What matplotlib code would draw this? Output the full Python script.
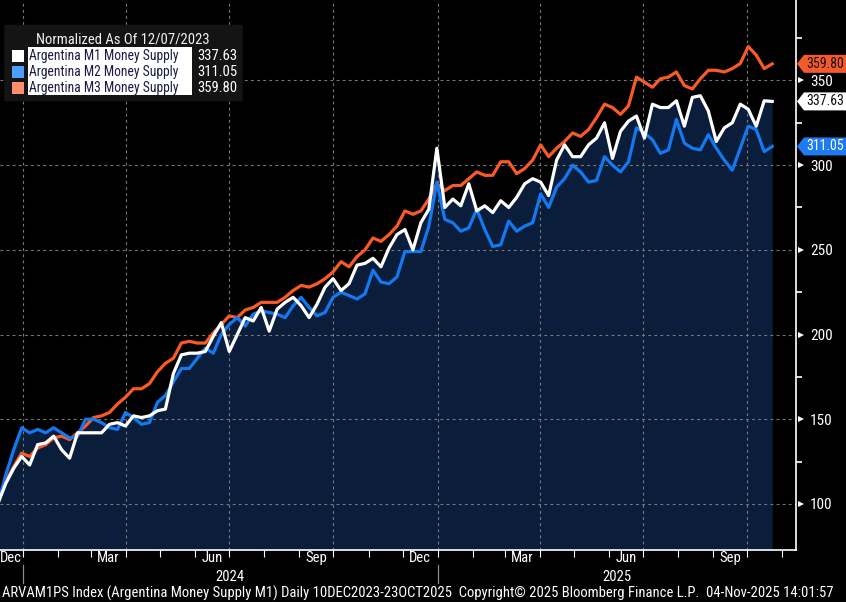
import matplotlib
matplotlib.use('Agg')
import matplotlib.pyplot as plt
import matplotlib.dates as mdates
from matplotlib import font_manager
from matplotlib.patches import FancyBboxPatch, Polygon, Rectangle
import numpy as np
import pandas as pd

# weekly readings, normalized to 100 as of 12/07/2023
START = '2023-12-10'
END = '2025-10-23'

m1 = [100, 112, 121, 128, 123, 135, 136, 140, 132, 127,
      142, 142, 142, 142, 147, 148, 146, 152, 151, 152,
      155, 156, 177, 188, 189, 189, 190, 199, 207, 190,
      200, 210, 208, 216, 202, 215, 219, 222, 217, 210,
      218, 228, 233, 226, 230, 241, 242, 245, 240, 251,
      259, 262, 250, 266, 274, 310, 275, 280, 276, 289,
      273, 276, 272, 279, 275, 281, 289, 292, 290, 282,
      303, 312, 305, 305, 312, 316, 325, 304, 320, 326,
      329, 316, 336, 334, 334, 338, 323, 340, 341, 332,
      314, 322, 325, 336, 333, 323, 338, 337.63]
m2 = [100, 117, 132, 145, 142, 144, 142, 145, 142, 139,
      140, 150, 150, 148, 145, 144, 154, 151, 147, 148,
      160, 164, 172, 180, 180, 186, 192, 189, 200, 206,
      210, 205, 212, 214, 213, 212, 210, 217, 222, 216,
      211, 213, 222, 225, 223, 221, 224, 238, 231, 230,
      234, 249, 249, 249, 264, 290, 268, 266, 261, 263,
      274, 262, 252, 253, 267, 261, 264, 266, 283, 275,
      287, 292, 300, 296, 290, 291, 305, 300, 296, 302,
      322, 319, 315, 307, 309, 327, 313, 310, 309, 318,
      310, 303, 297, 310, 323, 321, 308, 311.05]
m3 = [100, 113, 122, 130, 128, 133, 135, 139, 140, 138,
      142, 146, 151, 152, 154, 159, 163, 168, 168, 171,
      178, 183, 186, 195, 196, 195, 195, 201, 206, 211,
      210, 214.5, 216, 219, 219, 219, 222, 226, 229, 228,
      230, 233, 237, 243, 240, 246, 250, 257, 255, 259,
      264, 273, 271, 273, 280, 289, 285, 288, 288, 292,
      296, 294, 294, 302, 302, 295, 298, 303, 312, 305,
      310, 314, 319, 317, 321, 328, 336, 334, 330, 335,
      352, 349, 346, 351, 352, 355, 347, 345, 351, 356,
      356, 355, 357, 360, 370, 365, 357, 359.80]

names = ['Argentina M1 Money Supply', 'Argentina M2 Money Supply', 'Argentina M3 Money Supply']
last_labels = ['337.63', '311.05', '359.80']
line_colors = ['#ffffff', '#1478f0', '#fa5a25']
key_colors = ['#ffffff', '#4a9cff', '#ff8f6b']
box_colors = ['#ffffff', '#1f7bf2', '#f65a2a']
box_text = ['#111111', '#ffffff', '#111111']

y_ticks = [100, 150, 200, 250, 300, 350]
y_minor = [125, 175, 225, 275, 325, 375]
footer = ('ARVAM1PS Index (Argentina Money Supply M1) Daily 10DEC2023-23OCT2025  '
          'Copyright\u00a9 2025 Bloomberg Finance L.P.  04-Nov-2025 14:01:57')


def pick_font(names_):
    for n in names_:
        try:
            font_manager.findfont(font_manager.FontProperties(family=n), fallback_to_default=False)
            return n
        except ValueError:
            pass
    return 'DejaVu Sans'


FONT = pick_font(['Liberation Sans Narrow', 'Roboto Condensed', 'DejaVu Sans'])
plt.rcParams['font.family'] = [FONT, 'DejaVu Sans']

W, H = 846, 602


def fx(x):
    return x / W


def fy(y):
    return 1 - y / H


fig = plt.figure(figsize=(W / 100, H / 100), dpi=100, facecolor='black')
ax = fig.add_axes([0, fy(550), fx(796), 550 / H])
ax.set_facecolor('black')

dates = pd.date_range(START, END, periods=len(m1))
xmin, xmax = pd.Timestamp('2023-12-12'), pd.Timestamp('2025-11-13')
ax.set_xlim(xmin, xmax)
ax.set_ylim(72.8, 397.5)

ax.fill_between(dates, 0, np.maximum(m1, m2), color='#0a1e3b', lw=0, zorder=1)

# grid
for q in pd.date_range('2024-01-01', '2025-10-01', freq='QS'):
    ax.axvline(q, color='#7a7a7a', lw=0.8, ls=(0, (2.5, 3)), zorder=2)
for v in y_ticks:
    ax.axhline(v, color='#7a7a7a', lw=0.8, ls=(0, (2.5, 3)), zorder=2)

ax.plot(dates, m3, color=line_colors[2], lw=2.3, zorder=4, solid_joinstyle='round')
ax.plot(dates, m2, color=line_colors[1], lw=2.3, zorder=5, solid_joinstyle='round')
ax.plot(dates, m1, color=line_colors[0], lw=2.3, zorder=6, solid_joinstyle='round')

for s in ['left', 'top']:
    ax.spines[s].set_visible(False)
for s in ['right', 'bottom']:
    ax.spines[s].set_color('white')
    ax.spines[s].set_linewidth(1.2)

# x axis: monthly ticks, labels centred in the visible month
ax.xaxis.set_major_locator(mdates.MonthLocator())
ax.tick_params(axis='x', which='major', length=5, color='white', labelbottom=False)
xt = ax.get_xaxis_transform()
for m in pd.date_range('2023-12-01', '2025-09-01', freq='3MS'):
    a = max(m, xmin)
    b = min(m + pd.offsets.MonthBegin(1), xmax)
    ax.text(a + (b - a) / 2, -0.015, m.strftime('%b'), transform=xt, color='white',
            fontsize=10.5, ha='center', va='center')
for y0, y1 in [('2024-01-01', '2025-01-01'), ('2025-01-01', None)]:
    a = pd.Timestamp(y0)
    b = xmax if y1 is None else pd.Timestamp(y1)
    ax.text(a + (b - a) / 2, -0.049, a.strftime('%Y'), transform=xt, color='white',
            fontsize=10.5, ha='center', va='center')
    ax.plot([a, a], [-0.027, -0.06], transform=xt, color='#8a8a8a', lw=0.9, clip_on=False)

# y axis on the right
ax.yaxis.tick_right()
ax.set_yticks(y_ticks)
ax.set_yticks(y_minor, minor=True)
ax.tick_params(axis='y', which='major', length=0, pad=10, labelcolor='white', labelsize=11)
ax.tick_params(axis='y', which='minor', length=4, width=1.2, color='white')
yt = ax.get_yaxis_transform()
ax.plot(np.full(len(y_ticks), 1.0065), y_ticks, ls='none', marker='>', ms=5, color='white',
        mew=0, transform=yt, clip_on=False)

# last value boxes
for i, lab in enumerate(last_labels):
    yd = ax.transData.transform((0, float(lab)))[1]
    yp = H - yd
    pts = [(797, yp), (804, yp - 9), (846, yp - 9), (846, yp + 9), (804, yp + 9)]
    fig.patches.append(Polygon([(fx(a), fy(b)) for a, b in pts], closed=True,
                               transform=fig.transFigure, facecolor=box_colors[i], lw=0))
    fig.text(fx(825), fy(yp), lab, color=box_text[i], fontsize=10, ha='center', va='center')

# legend
fig.patches.append(FancyBboxPatch((fx(6), fy(100)), fx(235), 74 / H,
                                  boxstyle='round,pad=0.002', transform=fig.transFigure,
                                  facecolor='#141414', edgecolor='none', zorder=10))
fig.text(fx(123), fy(40), 'Normalized As Of 12/07/2023', color='#f0f0f0', fontsize=10.5,
         ha='center', va='center', zorder=11)
fig.patches.append(Rectangle((fx(28), fy(95)), fx(164), 48 / H, transform=fig.transFigure,
                             facecolor='white', lw=0, zorder=11))
for i, name in enumerate(names):
    yy = 56 + i * 16
    fig.patches.append(Rectangle((fx(12), fy(yy + 6)), fx(12), 12 / H, transform=fig.transFigure,
                                 facecolor=key_colors[i], lw=0, zorder=12))
    fig.text(fx(29), fy(yy), name, color='#1c1c48', fontsize=9.8, ha='left', va='center', zorder=12)
    fig.text(fx(197), fy(yy), last_labels[i], color='white', fontsize=10.5, ha='left',
             va='center', zorder=12)

fig.text(fx(2), fy(593), footer, color='white', fontsize=10.5, ha='left', va='center')

fig.savefig('out.png', dpi=100, facecolor='black')
